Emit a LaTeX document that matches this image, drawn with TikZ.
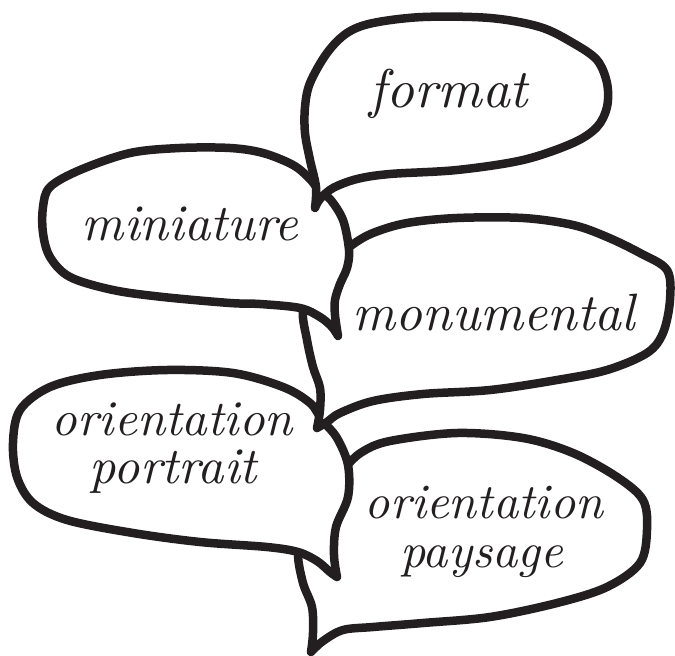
\documentclass[tikz,border=0pt]{standalone}
\usepackage{graphicx}
\definecolor{ink}{HTML}{231F20}
\tikzset{
  bubble/.style={draw=ink, fill=white, line width=8.5pt, line join=round, line cap=round},
  lbl/.style={anchor=base, inner sep=0pt, text=ink}
}
\newcommand{\cw}[2]{\resizebox{#1pt}{!}{\itshape #2}}
\begin{document}
\begin{tikzpicture}[x=1pt,y=-1pt]
\useasboundingbox (0,0) rectangle (675,656);
% bubble 5 (back)
\draw[bubble] plot[smooth, tension=0.55] coordinates {(311,652) (323,641) (343,630) (373,627) (423,623) (490,617) (557,603) (607,587) (640,563) (647,530) (643,500) (617,477) (573,453) (523,438) (457,433) (390,441) (362,452) (345,468) (325,495) (305,525) (298,553) (303,583) (312,607) (313,633) (311,652)} -- cycle;
% bubble 4
\draw[bubble] plot[smooth, tension=0.55] coordinates {(337,577) (330,572) (317,561) (298,552) (267,547) (200,542) (133,533) (67,520) (33,503) (17,477) (13,443) (20,410) (50,387) (100,375) (167,370) (233,373) (283,387) (310,403) (322,420) (337,438) (348,465) (348,497) (336,527) (334,555) (337,577)} -- cycle;
% bubble 3
\draw[bubble] plot[smooth, tension=0.55] coordinates {(317,428) (327,422) (340,413) (373,401) (423,394) (490,390) (557,380) (607,370) (647,353) (663,333) (670,300) (667,270) (640,253) (607,237) (573,225) (523,218) (457,218) (407,223) (373,233) (352,245) (333,262) (315,285) (303,310) (307,340) (313,367) (320,388) (320,410) (317,428)} -- cycle;
% bubble 2
\draw[bubble] plot[smooth, tension=0.55] coordinates {(338,336) (332,327) (320,317) (300,308) (260,304) (230,303) (163,297) (113,290) (70,277) (50,257) (43,233) (43,207) (50,187) (80,170) (130,153) (180,148) (230,148) (263,153) (293,165) (310,179) (320,192) (330,199) (343,220) (349,250) (347,268) (340,284) (335,300) (335,315) (338,336)} -- cycle;
% bubble 1 (front)
\draw[bubble] plot[smooth, tension=0.55] coordinates {(315,208) (320,199) (333,188) (357,179) (390,174) (457,170) (523,160) (573,143) (597,127) (607,107) (607,83) (597,60) (573,43) (540,27) (490,18) (423,17) (373,23) (347,33) (327,53) (310,83) (305,107) (305,133) (310,160) (316,187) (315,208)} -- cycle;
% labels
\node[lbl] (format) at (449,107) {\cw{158}{format}};
\node[lbl] (mini) at (190,240) {\cw{216}{miniature}};
\node[lbl] (monu) at (494,330) {\cw{282}{monumental}};
\node[lbl] (orientA) at (172.5,435) {\cw{241}{orientation}};
\node[lbl] (portrait) at (173.5,483) {\cw{167}{portrait}};
\node[lbl] (orientB) at (484,518) {\cw{238}{orientation}};
\node[lbl] (paysage) at (481.5,567) {\cw{163}{paysage}};
\end{tikzpicture}
\end{document}
